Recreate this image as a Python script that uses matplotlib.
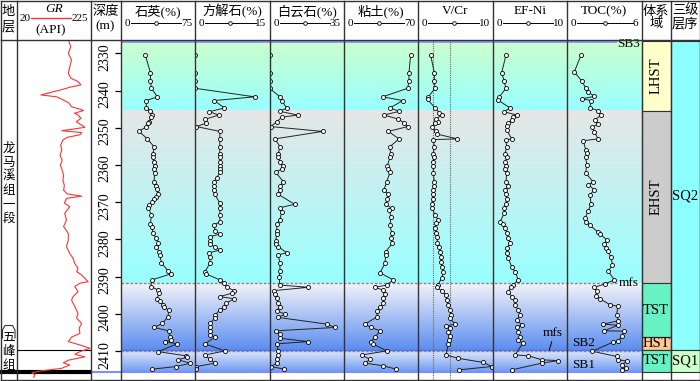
import numpy as np
import matplotlib
matplotlib.use('Agg')
import matplotlib.pyplot as plt
from matplotlib.patches import Rectangle
from matplotlib.colors import to_rgb

plt.rcParams['font.family'] = ['Liberation Serif', 'Noto Sans CJK SC']

gr_depth = [2326.4, 2328.2, 2330.0, 2331.8, 2333.6, 2335.4, 2336.7, 2337.6, 2338.5, 2339.1,
            2339.9, 2340.6, 2341.2, 2341.7, 2342.6, 2343.4, 2344.4, 2345.0, 2345.4, 2346.1,
            2346.6, 2347.5, 2348.4, 2349.3, 2349.9, 2350.4, 2350.8, 2351.3, 2351.9, 2352.6,
            2353.3, 2354.7, 2356.0, 2357.4, 2358.7, 2360.1, 2361.4, 2362.8, 2364.1, 2365.5,
            2366.8, 2367.8, 2368.4, 2369.0, 2370.3, 2371.2, 2373.0, 2374.8, 2376.6, 2378.4,
            2380.2, 2382.0, 2383.8, 2385.1, 2386.5, 2387.8, 2388.7, 2389.6, 2390.5, 2391.4,
            2391.8, 2392.7, 2394.1, 2395.4, 2396.3, 2398.1, 2399.9, 2401.2, 2402.6, 2403.9,
            2405.3, 2406.3, 2407.5, 2408.4, 2409.3, 2410.2, 2410.9, 2411.6, 2412.5, 2413.2,
            2413.8, 2414.7, 2415.4, 2415.9, 2416.5, 2417.1]
gr = [163, 170, 163, 172, 167, 163, 170, 190, 198, 168,
      140, 110, 87, 131, 150, 165, 172, 195, 205, 180,
      190, 198, 185, 200, 209, 175, 145, 200, 195, 160,
      148, 142, 145, 140, 146, 141, 146, 150, 148, 152,
      150, 160, 200, 158, 152, 167, 153, 158, 150, 163,
      163, 158, 167, 176, 181, 190, 186, 200, 209, 218,
      195, 181, 190, 176, 172, 181, 190, 186, 200, 193,
      195, 172, 163, 195, 223, 195, 181, 209, 163, 149,
      167, 144, 85, 62, 71, 67]

quartz_depth = [2330.5, 2335.2, 2337.4, 2339.4, 2341.7, 2342.7, 2344.7, 2345.6, 2346.6, 2347.2,
                2348.4, 2348.8, 2349.7, 2351.0, 2353.0, 2355.1, 2357.1, 2358.0, 2359.2, 2360.3,
                2361.1, 2362.3, 2364.5, 2365.6, 2366.6, 2367.9, 2368.6, 2369.3, 2370.1, 2370.9,
                2371.5, 2373.5, 2375.9, 2376.6, 2378.4, 2379.7, 2381.1, 2382.0, 2383.3, 2384.2,
                2386.3, 2388.5, 2389.3, 2390.9, 2392.7, 2393.6, 2394.5, 2396.0, 2396.5, 2397.7,
                2398.3, 2399.0, 2400.8, 2402.6, 2403.7, 2404.6, 2406.2, 2407.1, 2407.5, 2408.1,
                2410.2, 2411.3, 2411.7, 2412.4, 2413.3, 2414.2, 2414.9]
quartz = [24.9, 30.0, 30.0, 31.0, 37.0, 25.9, 25.9, 30.0, 32.0, 31.0,
          28.3, 27.6, 25.9, 18.5, 26.9, 33.6, 32.6, 32.6, 33.3, 34.3,
          33.6, 34.3, 33.6, 35.3, 36.6, 37.7, 36.0, 33.3, 32.0, 28.6,
          27.9, 31.0, 30.0, 31.6, 32.6, 36.0, 37.7, 36.0, 38.7, 39.4,
          41.1, 47.8, 50.5, 31.6, 30.3, 37.7, 38.7, 36.6, 40.1, 42.7,
          43.4, 48.4, 47.8, 42.1, 33.6, 48.4, 49.5, 51.1, 44.4, 56.8,
          37.7, 65.6, 66.9, 57.8, 70.3, 56.2, 32.0]

calcite_depth = [2330.5, 2335.2, 2337.4, 2339.4, 2341.7, 2342.7, 2344.7, 2345.7, 2346.6, 2347.7,
                 2348.8, 2349.7, 2351.0, 2353.0, 2355.1, 2357.1, 2358.0, 2359.2, 2360.3, 2361.1,
                 2362.0, 2363.4, 2364.5, 2365.6, 2366.8, 2367.9, 2370.3, 2371.6, 2373.5, 2375.3,
                 2376.1, 2377.7, 2378.6, 2379.3, 2380.4, 2381.3, 2382.0, 2382.9, 2383.6, 2384.8,
                 2386.5, 2388.7, 2389.3, 2390.9, 2391.8, 2392.9, 2393.8, 2394.5, 2395.4, 2396.0,
                 2397.2, 2398.3, 2399.0, 2400.4, 2401.2, 2402.6, 2403.7, 2404.6, 2405.6, 2406.3,
                 2408.1, 2410.0, 2411.1, 2412.3, 2413.3, 2414.2, 2414.9]
calcite = [0, 0, 0, 0, 12.0, 3.9, 5.9, 2.9, 4.8, 2.1,
           2.2, 0.3, 5.0, 5.0, 5.0, 5.0, 5.0, 5.0, 5.0, 5.0,
           5.0, 4.4, 3.9, 3.9, 3.9, 4.0, 5.0, 5.0, 5.0, 5.0,
           3.9, 4.0, 5.0, 3.0, 3.0, 3.0, 4.0, 5.0, 2.9, 3.0,
           3.0, 2.0, 2.2, 5.0, 5.9, 6.4, 7.9, 7.4, 5.0, 7.9,
           6.2, 5.9, 5.0, 4.0, 4.0, 3.0, 3.0, 3.0, 3.0, 4.0,
           2.0, 6.0, 2.0, 3.0, 4.0, 0.3, 0.2]

dolomite_depth = [2330.5, 2335.2, 2337.4, 2339.4, 2341.7, 2342.7, 2344.7, 2345.6, 2346.6, 2347.2,
                  2348.4, 2349.7, 2351.0, 2353.0, 2355.1, 2357.1, 2358.0, 2359.2, 2360.3, 2361.1,
                  2362.0, 2364.5, 2365.6, 2366.8, 2367.9, 2370.6, 2371.5, 2372.6, 2374.8, 2375.9,
                  2377.7, 2378.6, 2380.4, 2381.3, 2382.0, 2383.6, 2384.2, 2386.5, 2388.5, 2390.2,
                  2392.3, 2392.9, 2393.8, 2394.7, 2395.9, 2397.2, 2398.1, 2399.2, 2400.1, 2401.0,
                  2402.8, 2403.7, 2404.6, 2405.5, 2406.6, 2407.5, 2408.1, 2410.0, 2411.1, 2412.3,
                  2413.3, 2414.2, 2414.9]
dolomite = [0, 0, 0, 0, 4.9, 5.7, 8.1, 4.9, 13.2, 5.7,
            3.4, 0.6, 25.0, 2.6, 4.9, 4.1, 4.1, 4.9, 6.2, 5.7,
            2.9, 6.5, 4.9, 4.9, 4.1, 11.8, 4.9, 5.7, 4.9, 3.4,
            3.4, 3.4, 2.9, 2.9, 4.1, 8.1, 4.1, 4.9, 4.9, 4.5,
            4.9, 18.2, 2.1, 2.6, 3.4, 4.1, 4.9, 3.4, 7.3, 4.1,
            26.9, 30.8, 2.9, 4.9, 4.9, 18.2, 3.4, 4.1, 4.1, 3.4,
            3.4, 0.6, 7.0]

clay_depth = [2330.5, 2335.2, 2337.4, 2339.4, 2341.7, 2342.7, 2344.7, 2345.6, 2346.6, 2347.7,
              2348.7, 2349.7, 2351.0, 2353.0, 2355.1, 2357.1, 2358.0, 2360.3, 2361.1, 2362.0,
              2364.5, 2366.7, 2367.9, 2369.3, 2370.5, 2371.7, 2372.1, 2374.1, 2376.1, 2378.4,
              2379.7, 2381.1, 2383.3, 2384.2, 2386.5, 2389.0, 2390.9, 2392.3, 2392.9, 2393.6,
              2394.7, 2395.9, 2397.2, 2398.3, 2399.2, 2400.8, 2402.8, 2403.7, 2404.6, 2406.3,
              2407.5, 2408.1, 2410.0, 2411.1, 2412.3, 2413.3, 2414.0, 2414.9]
clay = [62.8, 61.2, 61.2, 60.0, 36.4, 55.3, 43.3, 52.1, 37.7, 51.2,
        56.5, 60.0, 41.8, 51.8, 43.3, 44.0, 43.3, 40.8, 41.8, 43.3,
        40.2, 37.7, 41.8, 40.8, 39.3, 44.9, 42.7, 44.3, 43.3, 44.9,
        44.3, 45.5, 39.3, 39.3, 38.6, 33.9, 46.4, 40.2, 29.2, 36.4,
        38.6, 37.0, 37.0, 33.9, 30.8, 31.4, 19.8, 25.4, 33.9, 29.2,
        25.4, 27.0, 40.2, 16.7, 24.5, 19.8, 37.0, 49.0]

vcr_depth = [2330.5, 2335.2, 2337.4, 2339.4, 2341.7, 2342.4, 2344.7, 2346.0, 2346.6, 2347.7,
             2348.4, 2348.7, 2349.7, 2351.0, 2351.7, 2353.0, 2353.2, 2355.1, 2357.1, 2358.0,
             2359.2, 2360.3, 2362.3, 2364.5, 2365.6, 2366.8, 2367.9, 2369.3, 2370.5, 2371.7,
             2373.5, 2374.8, 2375.7, 2377.0, 2378.4, 2379.5, 2380.9, 2382.0, 2383.3, 2384.7,
             2386.0, 2387.4, 2388.7, 2390.5, 2392.3, 2392.9, 2393.8, 2395.0, 2396.3, 2397.7,
             2399.0, 2400.4, 2401.2, 2402.8, 2403.3, 2403.9, 2404.8, 2406.0, 2407.1, 2408.1,
             2411.1, 2412.0, 2413.1, 2414.2, 2415.1]
vcr = [1.66, 2.15, 2.15, 2.24, 1.35, 1.26, 2.24, 2.83, 3.14, 2.38,
       2.69, 2.24, 1.88, 2.38, 2.47, 5.24, 2.02, 2.15, 2.02, 2.11,
       1.93, 2.02, 2.02, 2.15, 2.15, 2.02, 2.02, 1.93, 1.80, 1.88,
       2.24, 2.69, 2.38, 2.24, 2.34, 2.55, 2.55, 2.78, 2.92, 3.01,
       3.05, 3.14, 3.36, 3.14, 2.61, 2.47, 3.14, 3.72, 3.81, 4.03,
       4.26, 4.39, 4.26, 4.93, 3.72, 4.26, 4.03, 4.26, 4.12, 4.03,
       3.72, 5.38, 8.73, 9.86, 5.47]
vcr_limits = [2.0, 4.25]

efni_depth = [2330.5, 2335.2, 2337.4, 2339.4, 2341.7, 2342.6, 2344.7, 2345.7, 2346.6, 2347.2,
              2347.9, 2348.8, 2349.5, 2350.6, 2353.0, 2353.3, 2355.1, 2357.1, 2358.0, 2359.2,
              2360.3, 2361.1, 2362.3, 2364.5, 2365.6, 2366.8, 2367.9, 2369.3, 2370.5, 2371.7,
              2373.0, 2375.3, 2375.9, 2377.0, 2378.4, 2379.7, 2381.1, 2382.4, 2383.8, 2385.1,
              2387.4, 2388.7, 2390.9, 2392.3, 2392.9, 2394.1, 2395.4, 2396.3, 2397.7, 2399.0,
              2400.4, 2401.7, 2403.0, 2403.7, 2404.8, 2406.2, 2407.1, 2408.0, 2411.1, 2411.3,
              2412.4, 2412.6, 2413.3, 2415.1]
efni = [1.78, 1.21, 1.52, 1.78, 0.89, 0.75, 2.32, 1.52, 3.22, 2.77,
        2.55, 2.09, 1.88, 1.88, 2.55, 1.78, 1.88, 1.65, 1.88, 1.65,
        1.78, 1.65, 1.88, 1.78, 2.09, 1.65, 1.78, 1.88, 1.74, 1.56,
        1.56, 0.98, 1.43, 1.65, 1.88, 2.09, 2.32, 1.88, 1.88, 2.09,
        2.55, 2.99, 3.44, 2.77, 2.41, 2.09, 2.55, 2.99, 2.99, 3.44,
        3.66, 3.22, 3.89, 3.22, 3.44, 3.66, 3.44, 4.03, 2.99, 4.78,
        6.58, 8.81, 6.58, 2.55]

toc_depth = [2330.5, 2335.0, 2337.4, 2339.3, 2340.4, 2341.6, 2342.2, 2342.7, 2344.7, 2345.4,
             2346.7, 2347.8, 2349.0, 2349.9, 2351.2, 2353.0, 2353.5, 2355.9, 2356.8, 2358.0,
             2359.9, 2362.2, 2364.6, 2365.3, 2366.7, 2368.0, 2370.5, 2372.3, 2374.3, 2375.3,
             2376.2, 2378.0, 2378.6, 2380.1, 2381.3, 2382.3, 2383.2, 2384.8, 2386.8, 2388.6,
             2390.9, 2392.0, 2392.9, 2394.0, 2395.3, 2396.0, 2397.6, 2398.0, 2400.3, 2401.9,
             2402.8, 2403.1, 2404.6, 2404.7, 2406.1, 2407.4, 2407.6, 2410.1, 2411.5, 2412.4,
             2412.7, 2413.9, 2414.6, 2415.0]
toc = [1.12, 0.57, 1.17, 1.49, 1.71, 2.19, 1.22, 1.92, 1.84, 2.51,
       2.73, 2.25, 2.46, 2.03, 2.19, 2.51, 1.30, 1.49, 1.58, 1.49,
       1.58, 1.49, 2.11, 1.71, 2.19, 1.84, 1.92, 1.71, 1.44, 1.49,
       1.84, 2.46, 2.65, 3.19, 3.00, 3.11, 3.27, 3.54, 3.65, 3.32,
       3.81, 3.05, 2.19, 2.38, 2.30, 2.65, 3.46, 4.08, 4.00, 4.13,
       2.92, 4.08, 3.00, 4.61, 4.40, 4.13, 3.73, 2.03, 4.00, 4.13,
       4.81, 4.40, 4.73, 4.40]

depth_ticks = [2330, 2340, 2350, 2360, 2370, 2380, 2390, 2400, 2410]

# sequence surfaces (depth, m)
SB3, LHST_BASE, MFS, HST_TOP, SB2, SB1 = 2326.7, 2345.4, 2391.8, 2406.3, 2409.8, 2415.6

tracts = [('LHST', SB3, LHST_BASE, '#ffffcc'),
          ('EHST', LHST_BASE, MFS, '#cccccc'),
          ('TST', MFS, HST_TOP, '#66f2c2'),
          ('HST', HST_TOP, SB2, '#ffc894'),
          ('TST', SB2, SB1, '#66f2c2')]
sequences = [('SQ2', SB3, SB2, '#8cffff'),
             ('SQ1', SB2, SB1, '#ccffcc')]

# ---------------- layout ----------------
W, H = 700, 381
TOP_PX, BOT_PX = 40, 380
D_TOP = 2330 + (TOP_PX - 53.3) / 3.72
D_BOT = 2330 + (BOT_PX - 53.3) / 3.72
edges = [0.5, 16.7, 90.7, 120.7, 195, 269.5, 344, 418.3, 492.7, 567.2, 641.5, 670.5, 699.5]

fig = plt.figure(figsize=(W / 100, H / 100), dpi=100)


def px_axes(x0, x1, y0=TOP_PX, y1=BOT_PX):
    return fig.add_axes([x0 / W, 1 - y1 / H, (x1 - x0) / W, (y1 - y0) / H])


def grad(c0, c1, n=64):
    a, b = np.array(to_rgb(c0)), np.array(to_rgb(c1))
    t = np.linspace(0, 1, n)[:, None]
    return (a + (b - a) * t)[:, None, :]


# background track: x in pixels, y in depth
bg = px_axes(0, W)
bg.set_axis_off()
zones = [(D_TOP, LHST_BASE, '#ccffcc', '#99ffff'),
         (LHST_BASE, MFS, '#e6e6e6', '#99ffff'),
         (MFS, SB2, '#f3f3f8', '#5c8ef0'),
         (SB2, SB1, '#e2e9fa', '#6e9bf2')]
for d0, d1, c0, c1 in zones:
    bg.imshow(grad(c0, c1), extent=(edges[3], edges[10], d1, d0), aspect='auto',
              interpolation='bilinear', zorder=0)

for name, d0, d1, col in tracts:
    bg.add_patch(Rectangle((edges[10], d0), edges[11] - edges[10], d1 - d0,
                           facecolor=col, edgecolor='#333333', lw=0.8, zorder=1))
    if name in ('LHST', 'EHST'):
        bg.text((edges[10] + edges[11]) / 2, (d0 + d1) / 2, name, rotation=90,
                ha='center', va='center', fontsize=10.5, zorder=3)
    else:
        bg.text((edges[10] + edges[11]) / 2, (d0 + d1) / 2, name,
                ha='center', va='center', fontsize=10.5, zorder=3)
for name, d0, d1, col in sequences:
    bg.add_patch(Rectangle((edges[11], d0), edges[12] - edges[11], d1 - d0,
                           facecolor=col, edgecolor='#333333', lw=0.8, zorder=1))
    bg.text((edges[11] + edges[12]) / 2, (d0 + d1) / 2, name,
            ha='center', va='center', fontsize=10.5, zorder=3)

bg.hlines(SB3, edges[3], 617, color='#8c8cff', lw=2, zorder=2)
bg.hlines(MFS, edges[3], 617, color='#888888', lw=1, linestyles=(0, (2, 1.2)), zorder=2)
bg.hlines(SB2 - 0.1, edges[3], edges[10], color='#4f6cff', lw=1, zorder=2)
bg.hlines(SB2 + 0.3, edges[3], edges[10], color='#888888', lw=1, linestyles=(0, (2, 1.2)), zorder=2)
bg.hlines(SB1, edges[2], edges[10], color='#7d8cff', lw=1.5, zorder=2)
bg.hlines(SB1, 0, edges[2], color='black', lw=3, zorder=4)
bg.hlines(SB2, edges[1], edges[2], color='black', lw=0.8, zorder=2)

bg.text(629, SB3 + 0.8, 'SB3', ha='center', va='center', fontsize=9.5, zorder=3)
bg.text(629, MFS, 'mfs', ha='center', va='center', fontsize=9.5, zorder=3)
bg.text(584, 2407.9, 'SB2', ha='center', va='center', fontsize=9.5, zorder=3)
bg.text(584, 2413.9, 'SB1', ha='center', va='center', fontsize=9.5, zorder=3)
bg.text(553, 2405.3, 'mfs', ha='center', va='center', fontsize=9.5, zorder=3)
bg.plot([551.7, 549.3], [2407.5, 2409.8], color='black', lw=0.7, zorder=3)
bg.set_xlim(0, W)
bg.set_ylim(D_BOT, D_TOP)

# GR track
ax_gr = px_axes(edges[1], edges[2])
ax_gr.patch.set_alpha(0)
ax_gr.set_axis_off()
ax_gr.plot(gr, gr_depth, color='#ff3333', lw=0.8)
ax_gr.set_xlim(20, 225)
ax_gr.set_ylim(D_BOT, D_TOP)

# depth track
ax_d = px_axes(edges[2], edges[3])
ax_d.patch.set_alpha(0)
for s in ax_d.spines.values():
    s.set_visible(False)
ax_d.set_xticks([])
ax_d.set_yticks(depth_ticks)
ax_d.tick_params(axis='y', left=False, right=True, labelleft=False, labelright=False,
                 direction='in', length=4, width=0.9)
for d in depth_ticks:
    ax_d.text(0.46, d + 1.0, str(d), transform=ax_d.get_yaxis_transform(), rotation=90,
              ha='center', va='center', fontsize=10)
ax_d.set_ylim(D_BOT, D_TOP)

# curve tracks
curves = [(quartz_depth, quartz, 75), (calcite_depth, calcite, 15), (dolomite_depth, dolomite, 35),
          (clay_depth, clay, 70), (vcr_depth, vcr, 10), (efni_depth, efni, 10), (toc_depth, toc, 6)]
for i, (dep, val, vmax) in enumerate(curves):
    ax = px_axes(edges[3 + i], edges[4 + i])
    ax.patch.set_alpha(0)
    ax.set_axis_off()
    if i == 4:
        for v in vcr_limits:
            ax.axvline(v, color='#666666', lw=0.8, ls=(0, (1, 1)))
    ax.plot(val, dep, '-o', color='#222222', lw=0.7, ms=2.9, mfc='white', mec='black', mew=0.6)
    ax.set_xlim(0, vmax)
    ax.set_ylim(D_BOT, D_TOP)

# frame, header and labels in pixel space
fr = fig.add_axes([0, 0, 1, 1])
fr.patch.set_alpha(0)
fr.set_axis_off()
fr.set_xlim(0, W)
fr.set_ylim(H, 0)
for x in edges:
    fr.plot([x, x], [0.5, BOT_PX], color='#333333', lw=1)
fr.plot([0.5, edges[-1]], [0.5, 0.5], color='#333333', lw=1)
fr.plot([0.5, edges[-1]], [TOP_PX, TOP_PX], color='#333333', lw=1)
fr.plot([0.5, edges[-1]], [BOT_PX, BOT_PX], color='#333333', lw=1)

hfs = 9.5
fr.text(8.6, 12, '地', ha='center', va='center', fontsize=hfs)
fr.text(8.6, 27, '层', ha='center', va='center', fontsize=hfs)
fr.text(54, 9.5, 'GR', ha='center', va='center', fontsize=hfs, style='italic')
fr.plot([31, 71], [18, 18], color='#ff3333', lw=1)
fr.text(25, 18.5, '20', ha='center', va='center', fontsize=8)
fr.text(80, 18.5, '225', ha='center', va='center', fontsize=8)
fr.text(51, 30, '(API)', ha='center', va='center', fontsize=hfs)
fr.text(105.5, 12, '深度', ha='center', va='center', fontsize=hfs)
fr.text(105.5, 26.5, '(m)', ha='center', va='center', fontsize=hfs)

titles = ['石英(%)', '方解石(%)', '白云石(%)', '粘土(%)', 'V/Cr', 'EF-Ni', 'TOC(%)']
for i, (title, (_, _, vmax)) in enumerate(zip(titles, curves)):
    x0, x1 = edges[3 + i], edges[4 + i]
    fr.text((x0 + x1) / 2, 11.5, title, ha='center', va='center', fontsize=hfs)
    lab = str(vmax)
    fr.text(x0 + 6.5, 23.5, '0', ha='center', va='center', fontsize=8)
    fr.text(x1 - 3, 23.5, lab, ha='right', va='center', fontsize=8)
    xe = x1 - 4 - 5 * len(lab)
    fr.plot([x0 + 10, xe], [23, 23], color='black', lw=0.7)
    fr.plot([(x0 + 10 + xe) / 2], [23], 'o', ms=2.6, mfc='white', mec='black', mew=0.6)

fr.text(656, 11.5, '体系', ha='center', va='center', fontsize=hfs)
fr.text(656, 24, '域', ha='center', va='center', fontsize=hfs)
fr.text(685, 11, '三级', ha='center', va='center', fontsize=hfs)
fr.text(685, 24.5, '层序', ha='center', va='center', fontsize=hfs)

for k, ch in enumerate('龙马溪组一段'):
    fr.text(8.6, 149 + 14 * k, ch, ha='center', va='center', fontsize=9)
for k, ch in enumerate('五峰组'):
    fr.text(8.6, 338 + 14 * k, ch, ha='center', va='center', fontsize=9)
fr.plot([2.5, 2.5, 5, 12.5, 15, 15], [338, 330, 325.5, 325.5, 330, 338], color='#333333', lw=0.8)

fig.savefig('out.png', dpi=100)
